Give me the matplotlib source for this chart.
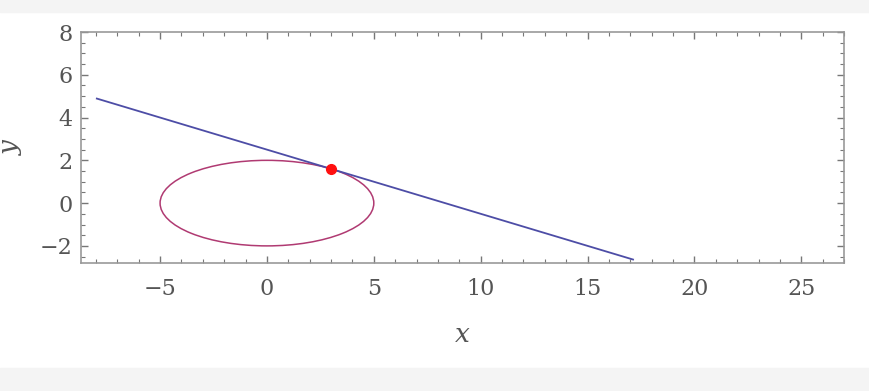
import matplotlib.pyplot as plt
from matplotlib.patches import Ellipse, Rectangle
from matplotlib.ticker import MultipleLocator

# tangent line endpoints
line_x = [-8.0, 17.17]
line_y = [4.9, -2.65]

# ellipse: center, full width, full height
ell_center = (0.0, 0.0)
ell_width = 10.0
ell_height = 4.0

# point of tangency
pt_x = [3.0]
pt_y = [1.6]

x_range = (-8.7, 27.0)
y_range = (-2.8, 8.0)
x_ticks = [-5, 0, 5, 10, 15, 20, 25]
y_ticks = [-2, 0, 2, 4, 6, 8]

plt.rcParams['font.family'] = ['DejaVu Serif']

fig = plt.figure(figsize=(8.69, 3.91), dpi=100)
fig.patches.append(Rectangle((0, 1 - 12 / 391), 1, 12 / 391, transform=fig.transFigure,
                             color='#f4f4f4', zorder=0))
fig.patches.append(Rectangle((0, 0), 1, 23 / 391, transform=fig.transFigure,
                             color='#f4f4f4', zorder=0))

ax = fig.add_axes([81 / 869, 1 - 263 / 391, 763 / 869, 231 / 391])

ax.plot(line_x, line_y, color='#4d4da6', lw=1.3, solid_capstyle='butt')
ax.add_patch(Ellipse(ell_center, ell_width, ell_height, fill=False,
                     edgecolor='#b03a72', lw=1.1))
ax.plot(pt_x, pt_y, 'o', color='#ff1010', ms=7, zorder=5)

ax.set_xlim(*x_range)
ax.set_ylim(*y_range)
ax.set_xticks(x_ticks)
ax.set_yticks(y_ticks)
ax.xaxis.set_minor_locator(MultipleLocator(1))
ax.yaxis.set_minor_locator(MultipleLocator(0.5))
ax.tick_params(which='both', direction='in', top=True, right=True,
               color='#777777', labelcolor='#555555', labelsize=16)
ax.tick_params(which='major', length=5, width=1)
ax.tick_params(which='minor', length=3, width=0.8)
ax.tick_params(axis='x', pad=11)
ax.tick_params(axis='y', pad=6)
for s in ax.spines.values():
    s.set_color('#999999')
    s.set_linewidth(1.2)

ax.set_xlabel('x', fontsize=19, style='italic', color='#555555', labelpad=16)
ax.set_ylabel('y', fontsize=19, style='italic', color='#555555', labelpad=12)

fig.savefig('out.png', dpi=100)
